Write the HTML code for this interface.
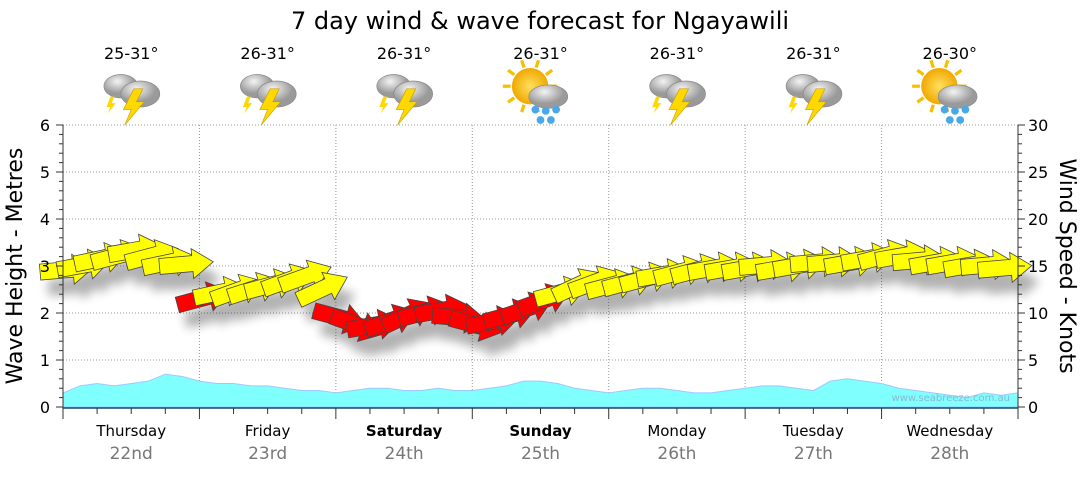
<!DOCTYPE html>
<html><head><meta charset="utf-8"><style>
body{margin:0;background:#fff;width:1080px;height:475px;overflow:hidden;font-family:"Liberation Sans",sans-serif}
svg text{font-family:"DejaVu Sans","Liberation Sans",sans-serif}
</style></head><body>
<svg id="c" width="1080" height="475">
<defs>
<filter id="sh" x="-20%" y="-50%" width="140%" height="250%"><feGaussianBlur stdDeviation="5"/></filter>
<radialGradient id="cl" cx="40%" cy="30%"><stop offset="0" stop-color="#f4f4f4"/><stop offset="1" stop-color="#9a9a9a"/></radialGradient>
<radialGradient id="sun" cx="50%" cy="50%"><stop offset="0" stop-color="#ffe060"/><stop offset="1" stop-color="#f0a800"/></radialGradient>
</defs>
<g id="grid"></g><g id="wave"></g><g id="shadow" filter="url(#sh)" opacity="0.3"></g><g id="arrows"></g><g id="axes"></g><g id="icons"></g>
</svg>
<script>
const days=["Thursday","Friday","Saturday","Sunday","Monday","Tuesday","Wednesday"];
const dates=["22nd","23rd","24th","25th","26th","27th","28th"];
const temps=["25-31°","26-31°","26-31°","26-31°","26-31°","26-31°","26-30°"];
const iconTypes=["storm","storm","storm","sunrain","storm","storm","sunrain"];
const waveTicks=[0,1,2,3,4,5,6];
const windTicks=[0,5,10,15,20,25,30];
const waveHeights=[0.3,0.45,0.5,0.45,0.5,0.55,0.7,0.65,0.55,0.5,0.5,0.45,0.45,0.4,0.35,0.35,0.3,0.35,0.4,0.4,0.35,0.35,0.4,0.35,0.35,0.4,0.45,0.55,0.55,0.5,0.4,0.35,0.3,0.35,0.4,0.4,0.35,0.3,0.3,0.35,0.4,0.45,0.45,0.4,0.35,0.55,0.6,0.55,0.5,0.4,0.35,0.3,0.25,0.2,0.3,0.25,0.3];
const windSpeeds=[14.6,15.1,15.8,16.1,16.7,16.1,15.4,15.2,11.6,12.2,12.4,12.6,13,13.5,13.9,12.6,9.5,8.7,8.7,9.2,9.8,10.1,10.3,9.5,8.7,9.1,9.8,10.5,11.4,12.2,13,13.3,13,13.3,13.7,14.1,14.4,14.6,14.8,14.8,14.8,15.1,14.8,15.1,15.4,15.4,15.4,15.8,16.1,16.1,15.6,15.4,15.4,15.1,15.1,14.8];
const windDirs=[-5,-10,-12,-15,-10,-15,-12,-5,-15,-12,-20,-18,-15,-20,-20,-25,15,20,-10,-20,-25,-15,-10,5,15,-10,-15,-20,-20,-15,-25,-20,-15,-15,-15,-10,-15,-15,-10,-10,-10,-5,-10,-10,-5,-5,-10,-10,-15,-10,-5,-10,-10,-10,-5,-5];
const windColors=["y","y","y","y","y","y","y","y","r","y","y","y","y","y","y","y","r","r","r","r","r","r","r","r","r","r","r","r","r","y","y","y","y","y","y","y","y","y","y","y","y","y","y","y","y","y","y","y","y","y","y","y","y","y","y","y"];
const NS="http://www.w3.org/2000/svg";
const L=63,R=1018,T=125,B=407;
const xDay=d=>L+d*(R-L)/7;
const xStep=i=>L+i*(R-L)/56;
const yWave=v=>B-v*(B-T)/6;
const yWind=v=>B-v*(B-T)/30;
function mk(t,a,p){const e=document.createElementNS(NS,t);for(const k in a)e.setAttribute(k,a[k]);(p||document.getElementById('c')).appendChild(e);return e;}
const g=id=>document.getElementById(id);
for(const v of waveTicks){if(v>0){const l=mk('line',{x1:L,x2:R,y1:yWave(v),y2:yWave(v),stroke:'#999','stroke-dasharray':'1,2'},g('grid'));

}}
for(let d=1;d<7;d++){const l=mk('line',{x1:xDay(d),x2:xDay(d),y1:T,y2:B,stroke:'#999','stroke-dasharray':'1,2'},g('grid'));

}
let dp=`M${xStep(0)},${B}`;waveHeights.forEach((v,i)=>{dp+=` L${xStep(i)},${yWave(v)}`;});dp+=` L${xStep(waveHeights.length-1)},${B}Z`;
const wa=mk('path',{d:dp,fill:'#80ffff',stroke:'#a0c8ff','stroke-width':1},g('wave'));


const wm=mk('text',{x:1010,y:401,'font-size':10,fill:'#8ab8d0','text-anchor':'end'},g('wave'));wm.textContent='www.seabreeze.com.au';


const ap="M-27,-8 L6,-8 L6,-15 L27,0 L6,15 L6,8 L-27,8 Z";
windSpeeds.forEach((v,i)=>{const x=xStep(i)+4,y=yWind(v),a=windDirs[i];
mk('path',{d:ap,fill:'#000',transform:`translate(${x+8},${y+16}) rotate(${a})`},g('shadow'));
const p=mk('path',{d:ap,fill:windColors[i]=='r'?'#ff0000':'#ffff00',stroke:'#444','stroke-width':0.8,transform:`translate(${x},${y}) rotate(${a})`},g('arrows'));

});
const ax=g('axes');
mk('line',{x1:L,x2:L,y1:T,y2:B+1,stroke:'#333'},ax);
mk('line',{x1:R,x2:R,y1:T,y2:B+1,stroke:'#333'},ax);
mk('line',{x1:L,x2:R,y1:B+1,y2:B+1,stroke:'#1a4a6a','stroke-width':1.5},ax);
for(let k=0;k<=30;k++){const y=yWave(k/5);mk('line',{x1:L-(k%5?4:7),x2:L,y1:y,y2:y,stroke:'#333'},ax);mk('line',{x1:R,x2:R+(k%5?4:7),y1:y,y2:y,stroke:'#333'},ax);}
waveTicks.forEach(v=>{const t=mk('text',{x:50,y:yWave(v)+6,'font-size':16,'text-anchor':'end',fill:'#000'},ax);t.textContent=v;

});
windTicks.forEach(v=>{const t=mk('text',{x:1028,y:yWind(v)+6,'font-size':16,fill:'#000'},ax);t.textContent=v;

});
for(let i=0;i<=28;i++){const x=L+i*(R-L)/28;mk('line',{x1:x,x2:x,y1:B+1,y2:B+(i%4?7:12),stroke:'#333'},ax);}
days.forEach((d,i)=>{const cx=(xDay(i)+xDay(i+1))/2;const bold=(i==2||i==3);
const t=mk('text',{x:cx,y:436,'font-size':15,'text-anchor':'middle','font-weight':bold?'bold':'normal',fill:'#000'},ax);t.textContent=d;


const t2=mk('text',{x:cx,y:459,'font-size':17,'text-anchor':'middle',fill:'#777'},ax);t2.textContent=dates[i];


const t3=mk('text',{x:cx,y:59,'font-size':16,'text-anchor':'middle',fill:'#000'},ax);t3.textContent=temps[i];


const ic=mk('g',{transform:`translate(${cx},94) scale(1.3)`},g('icons'));


if(iconTypes[i]=='storm'){
mk('ellipse',{cx:-8,cy:-6,rx:13,ry:9,fill:'url(#cl)',stroke:'#888','stroke-width':0.5},ic);
mk('ellipse',{cx:7,cy:0,rx:15,ry:10,fill:'url(#cl)',stroke:'#888','stroke-width':0.5},ic);
mk('path',{d:'M2,-4 L-6,12 L0,12 L-5,24 L10,6 L4,6 L9,-4Z',fill:'#ffd800',stroke:'#c9a000','stroke-width':0.5},ic);
mk('path',{d:'M-16,2 L-19,10 L-16,10 L-18,15 L-12,7 L-15,7 L-13,2Z',fill:'#ffd800'},ic);
}else{
mk('circle',{cx:-8,cy:-6,r:14,fill:'url(#sun)'},ic);
for(let k=0;k<10;k++){const a=k*36*Math.PI/180;mk('line',{x1:-8+15*Math.cos(a),y1:-6+15*Math.sin(a),x2:-8+21*Math.cos(a),y2:-6+21*Math.sin(a),stroke:'#f5c000','stroke-width':2.5},ic);}
mk('ellipse',{cx:6,cy:2,rx:15,ry:9,fill:'url(#cl)',stroke:'#888','stroke-width':0.5},ic);
[[-4,12],[4,13],[12,12],[0,20],[8,20]].forEach(p=>mk('circle',{cx:p[0],cy:p[1],r:3,fill:'#4aa8e8'},ic));
}});
const ti=mk('text',{x:540,y:29,'font-size':24,'text-anchor':'middle',fill:'#000'},ax);ti.textContent='7 day wind & wave forecast for Ngayawili';


const yl=mk('text',{x:0,y:0,'font-size':22,'text-anchor':'middle',transform:'translate(22,266) rotate(-90)',fill:'#000'},ax);yl.textContent='Wave Height - Metres';


const yr=mk('text',{x:0,y:0,'font-size':22,'text-anchor':'middle',transform:'translate(1060,266) rotate(90)',fill:'#000'},ax);yr.textContent='Wind Speed - Knots';


</script>
</body></html>
